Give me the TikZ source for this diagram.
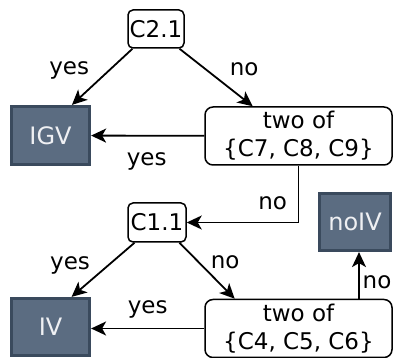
\documentclass[tikz,border=0pt]{standalone}
\usepackage{fontspec}
\setmainfont{DejaVu Sans}
\usetikzlibrary{arrows.meta,positioning}
\definecolor{slatefill}{HTML}{5B6C81}
\definecolor{slateedge}{HTML}{3A4A5D}
\tikzset{
  test/.style={draw, rounded corners=5pt, line width=1.5pt, inner sep=1pt, align=center},
  verdict/.style={draw=slateedge, fill=slatefill, line width=3.2pt, text=white!90!slatefill,
    font=\fontsize{24}{28}\selectfont},
  edge/.style={-{Stealth[length=15pt,width=14pt,inset=4pt]}, line width=1.8pt},
}
\begin{document}
\begin{tikzpicture}[x=1pt,y=-1pt,font=\fontsize{23}{28}\selectfont]
\useasboundingbox (0,0) rectangle (394,358);
% decision nodes
\node[test, minimum width=56pt, minimum height=38pt] (c21) at (156,29) {C2.1};
\node[test, rounded corners=8pt, minimum width=187pt, minimum height=58pt] (twoA) at (298.5,136) {two of\\\{C7, C8, C9\}};
\node[test, minimum width=58pt, minimum height=39pt] (c11) at (157,222.5) {C1.1};
\node[test, rounded corners=8pt, minimum width=187pt, minimum height=58pt] (twoB) at (298.5,328.5) {two of\\\{C4, C5, C6\}};
% outcomes
\node[verdict, minimum width=78pt, minimum height=58pt] (igv) at (50.5,135.5) {IGV};
\node[verdict, minimum width=78pt, minimum height=57pt] (iv) at (50.5,327) {IV};
\node[verdict, minimum width=71pt, minimum height=57pt] (noiv) at (355,222) {noIV};
% edges
\draw[edge] (c21.220) -- node[shift={(-33,-6)}] {yes} (igv.55);
\draw[edge] (c21.320) -- node[shift={(28,-8)}] {no} (twoA.147);
\draw[edge] (twoA) -- node[shift={(-1,26)}] {yes} (igv);
\draw[edge] (twoA.south) |- node[pos=0.62, shift={(1,-19)}] {no} (c11);
\draw[edge] (c11.222) -- node[shift={(-33,-4)}] {yes} (iv.55);
\draw[edge] (c11.318) -- node[shift={(18,-9)}] {no} (twoB.155);
\draw[edge] (twoB.west) -- node[shift={(0,-19.5)}] {yes} (twoB.west -| iv.east);
\draw[edge] ([xshift=4pt]noiv.south |- twoB.north) -- node[shift={(18,7)}] {no} ([xshift=4pt]noiv.south);
\end{tikzpicture}
\end{document}
